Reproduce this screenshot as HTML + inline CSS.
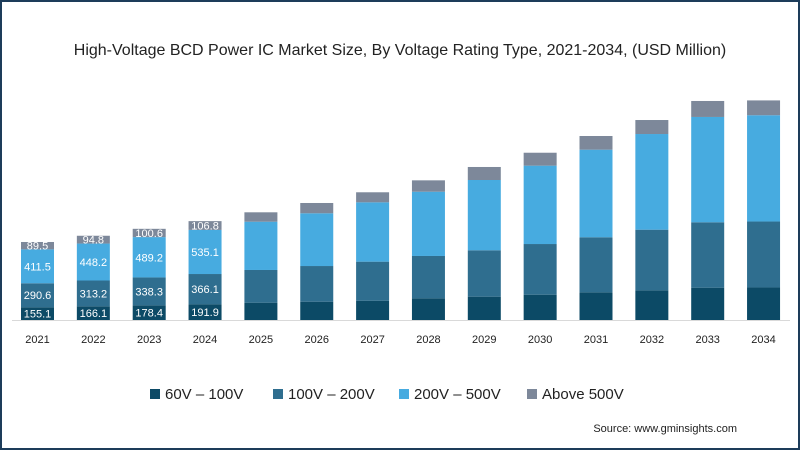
<!DOCTYPE html>
<html><head><meta charset="utf-8"><style>
body{margin:0;background:#fff}
svg{display:block;font-family:"Liberation Sans",sans-serif}
</style></head><body>
<svg id="chart" width="800" height="450" viewBox="0 0 800 450">
<rect x="1" y="1" width="798" height="448" fill="#fff" stroke="#1d3c5a" stroke-width="2"/>
<text x="400" y="55" text-anchor="middle" font-size="16" fill="#222">High-Voltage BCD Power IC Market Size, By Voltage Rating Type, 2021-2034, (USD Million)</text>
<line x1="12" y1="320.5" x2="790" y2="320.5" stroke="#d9d9d9"/>
<g id="bars"></g>
<g id="legend"></g>
<text x="737" y="432" text-anchor="end" font-size="11" fill="#222">Source: www.gminsights.com</text>
</svg>
<script>
const years=["2021","2022","2023","2024","2025","2026","2027","2028","2029","2030","2031","2032","2033","2034"];
const v60=[155.1,166.1,178.4,191.9,210,222,234,263,283,307,336,360,392,395];
const v100=[290.6,313.2,338.3,366.1,397,433,474,514,563,615,668,736,794,800];
const v200=[411.5,448.2,489.2,535.1,586,640,720,780,853,951,1063,1161,1278,1290];
const vAbove=[89.5,94.8,100.6,106.8,114,125,122,138,158,157,166,170,194,180];
const seriesNames=["60V – 100V","100V – 200V","200V – 500V","Above 500V"];
const showLabels=4;
const colors=["#0c4a66","#2f6e8f","#47abe0","#7d889a"];
const series=[v60,v100,v200,vAbove];
const ns="http://www.w3.org/2000/svg";
const base=320,k=0.0824,x0=21,step=55.85,bw=33;
const yS=v=>base-v*k;
const xS=i=>x0+i*step;
const g=document.getElementById('bars');
years.forEach((yr,i)=>{
  let cum=0;
  series.forEach((s,j)=>{
    const y1=yS(cum+s[i]),y0=yS(cum);
    const r=document.createElementNS(ns,'rect');
    
    
    r.setAttribute('x',xS(i));r.setAttribute('y',y1);
    r.setAttribute('width',bw);r.setAttribute('height',y0-y1);
    r.setAttribute('fill',colors[j]);
    g.appendChild(r);
    if(i<showLabels){
      const t=document.createElementNS(ns,'text');
      
      
      t.setAttribute('x',xS(i)+bw/2);
      t.setAttribute('y',(y0+y1)/2+4);
      t.setAttribute('text-anchor','middle');
      t.setAttribute('font-size','11');
      t.setAttribute('fill','#fff');
      t.textContent=s[i].toFixed(1);
      g.appendChild(t);
    }
    cum+=s[i];
  });
  const t=document.createElementNS(ns,'text');
  
  
  t.setAttribute('x',xS(i)+bw/2);t.setAttribute('y',343);
  t.setAttribute('text-anchor','middle');t.setAttribute('font-size','11');
  t.setAttribute('fill','#222');
  t.textContent=yr;
  g.appendChild(t);
});
const lg=document.getElementById('legend');
const lx=[150,273,399,527];
seriesNames.forEach((n,j)=>{
  const r=document.createElementNS(ns,'rect');
  
  
  r.setAttribute('x',lx[j]);r.setAttribute('y',389);r.setAttribute('width',10);r.setAttribute('height',10);
  r.setAttribute('fill',colors[j]);
  lg.appendChild(r);
  const t=document.createElementNS(ns,'text');
  
  
  t.setAttribute('x',lx[j]+15);t.setAttribute('y',399);
  t.setAttribute('font-size','15');t.setAttribute('fill','#222');
  t.textContent=n;
  lg.appendChild(t);
});
</script>
</body></html>
